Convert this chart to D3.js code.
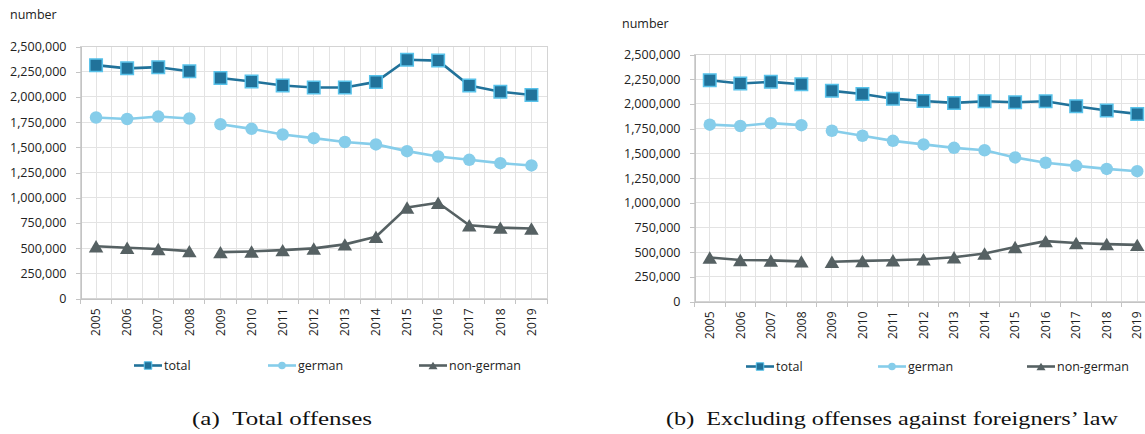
<!DOCTYPE html>
<html><head><meta charset="utf-8">
<script src="https://cdn.jsdelivr.net/npm/d3@7"></script>
<style>
html,body{margin:0;padding:0;background:#fff;}
svg{display:block;}
</style></head>
<body>
<svg id="chart" width="1145" height="434"></svg>
<script>
// ---------- data ----------
const years = ["2005","2006","2007","2008","2009","2010","2011","2012","2013","2014","2015","2016","2017","2018","2019"];
const breakAfterYear = "2008";
const seriesNames = ["total","german","non-german"];
const yTicks = [0,250000,500000,750000,1000000,1250000,1500000,1750000,2000000,2250000,2500000];
const yAxisTitle = "number";
const captions = ["(a)\u2002Total offenses","(b)\u2002Excluding offenses against foreigners\u2019 law"];

// (a) Total offenses
const totalA     = [2315000,2283000,2295000,2254000,2187000,2153000,2113000,2094000,2094000,2149000,2369000,2360000,2113000,2052000,2019000];
const germanA    = [1796000,1781000,1805000,1786000,1729000,1683000,1627000,1591000,1553000,1529000,1462000,1409000,1376000,1343000,1320000];
const nonGermanA = [519000,503000,491000,470000,460000,467000,480000,497000,537000,612000,902000,950000,727000,703000,694000];

// (b) Excluding offenses against foreigners' law
const totalB     = [2240000,2206000,2223000,2199000,2132000,2101000,2053000,2030000,2010000,2027000,2017000,2027000,1977000,1933000,1899000];
const germanB    = [1790000,1776000,1805000,1785000,1728000,1678000,1626000,1590000,1555000,1531000,1458000,1404000,1373000,1342000,1319000];
const nonGermanB = [445000,420000,416000,406000,402000,411000,418000,428000,448000,486000,551000,611000,592000,581000,573000];

// ---------- styles ----------
const colors = {total:"#21729a", totalStroke:"#58c2ea", german:"#86cdea", nongerman:"#566163"};
const svg = d3.select("#chart");
const FONT = "'Open Sans', 'DejaVu Sans', sans-serif";

function markerPath(type, s){
  if(type==="square") return d3.symbol().type(d3.symbolSquare).size(s*s)();
  if(type==="circle") return d3.symbol().type(d3.symbolCircle).size(Math.PI*(s/2)*(s/2))();
  const w=s, h=s*0.86;
  return `M0,${-h/2}L${w/2},${h/2}L${-w/2},${h/2}Z`;
}

function drawPanel(cfg){
  const g = svg.append("g");
  const x = d3.scaleBand().domain(years).range([cfg.left, cfg.right]);
  const y = d3.scaleLinear().domain([0,2500000]).range([cfg.bottom, cfg.top]);
  const bw = x.bandwidth();
  const cx = d => x(d)+bw/2;

  const vlines = [];
  years.forEach(yr => { vlines.push(x(yr)); vlines.push(x(yr)+bw/2); });
  vlines.push(cfg.right);
  g.append("g").selectAll("line").data(vlines).join("line")
    .attr("x1",d=>d).attr("x2",d=>d).attr("y1",cfg.top).attr("y2",cfg.bottom)
    .attr("stroke","#e3e3e3").attr("stroke-width",1).attr("shape-rendering","crispEdges");
  g.append("g").selectAll("line").data(yTicks).join("line")
    .attr("x1",cfg.left).attr("x2",cfg.right).attr("y1",d=>y(d)).attr("y2",d=>y(d))
    .attr("stroke","#e3e3e3").attr("stroke-width",1).attr("shape-rendering","crispEdges");
  g.append("rect").attr("x",cfg.left).attr("y",cfg.top).attr("width",cfg.right-cfg.left).attr("height",cfg.bottom-cfg.top)
    .attr("fill","none").attr("stroke","#d4d4d4").attr("shape-rendering","crispEdges");

  const ya = g.append("g").attr("transform",`translate(${cfg.left},0)`)
    .call(d3.axisLeft(y).tickValues(yTicks).tickSize(5).tickSizeOuter(0).tickPadding(9).tickFormat(d3.format(",")));
  ya.select(".domain").attr("stroke","#c4c4c4").attr("shape-rendering","crispEdges");
  ya.selectAll(".tick line").attr("stroke","#c4c4c4").attr("shape-rendering","crispEdges");
  ya.selectAll("text").attr("font-family",FONT).attr("font-size","12.5px").attr("fill","#222");

  const xa = g.append("g").attr("transform",`translate(0,${cfg.bottom})`)
    .call(d3.axisBottom(x).tickSize(0).tickSizeOuter(0));
  xa.select(".domain").attr("stroke","#c4c4c4").attr("shape-rendering","crispEdges");
  xa.selectAll("text").attr("font-family",FONT).attr("font-size","12px").attr("fill","#222")
    .attr("transform","rotate(-90)").attr("text-anchor","end").attr("x",-10).attr("y",0).attr("dy","0.35em");
  const edges = years.map(yr=>x(yr)).concat([cfg.right]);
  g.append("g").selectAll("line").data(edges).join("line")
    .attr("x1",d=>d).attr("x2",d=>d).attr("y1",cfg.bottom).attr("y2",cfg.bottom+5)
    .attr("stroke","#c4c4c4").attr("shape-rendering","crispEdges");

  g.append("text").attr("x",cfg.titleX).attr("y",cfg.titleY).text(yAxisTitle)
    .attr("font-family",FONT).attr("font-size","12.5px").attr("fill","#222");

  const series = [
    {name:seriesNames[0], vals:cfg.total, color:colors.total, marker:"square", size:12.5, fill:colors.total, stroke:colors.totalStroke},
    {name:seriesNames[1], vals:cfg.german, color:colors.german, marker:"circle", size:12.5, fill:colors.german, stroke:"none"},
    {name:seriesNames[2], vals:cfg.nongerman, color:colors.nongerman, marker:"triangle", size:14.5, fill:colors.nongerman, stroke:"none"}
  ];
  const bi = years.indexOf(breakAfterYear);
  series.forEach(s => {
    const pts = years.map((yr,i)=>({yr, v:s.vals[i], i}));
    const segs = [pts.filter(p=>p.i<=bi), pts.filter(p=>p.i>bi)];
    const line = d3.line().x(p=>cx(p.yr)).y(p=>y(p.v));
    g.append("g").selectAll("path").data(segs).join("path")
      .attr("d",line).attr("fill","none").attr("stroke",s.color).attr("stroke-width",2.6).attr("stroke-linejoin","round");
    g.append("g").selectAll("path").data(pts).join("path")
      .attr("d",markerPath(s.marker,s.size))
      .attr("transform",p=>`translate(${cx(p.yr)},${y(p.v)})`)
      .attr("fill",s.fill).attr("stroke",s.stroke).attr("stroke-width",s.stroke==="none"?0:1.5);
  });

  series.forEach((s,i)=>{
    const lx = cfg.legendX[i], ly = cfg.legendY;
    const lg = g.append("g");
    lg.append("line").attr("x1",lx).attr("x2",lx+28).attr("y1",ly).attr("y2",ly)
      .attr("stroke",s.color).attr("stroke-width",2.6);
    lg.append("path").attr("d",markerPath(s.marker, s.marker==="triangle"?9:7.5))
      .attr("transform",`translate(${lx+14},${ly})`).attr("fill",s.fill)
      .attr("stroke",s.stroke).attr("stroke-width",s.stroke==="none"?0:1);
    lg.append("text").attr("x",lx+30).attr("y",ly).attr("dy","0.35em").text(s.name)
      .attr("font-family",FONT).attr("font-size","12.5px").attr("fill","#222");
  });

  g.append("text").attr("x",cfg.capX).attr("y",425).attr("text-anchor","middle")
    .attr("font-family","'Liberation Serif', 'Times New Roman', serif").attr("font-size","18.5px").attr("fill","#111")
    .attr("textLength", cfg.capW).attr("lengthAdjust","spacingAndGlyphs")
    .text(cfg.caption);
}

drawPanel({left:80.5, right:547, top:46.5, bottom:298.5, total:totalA, german:germanA, nongerman:nonGermanA,
  titleX:10, titleY:19, legendX:[134,268,419], legendY:365.5, caption:captions[0], capX:282, capW:180});
drawPanel({left:694.5, right:1152.5, top:54.5, bottom:301.5, total:totalB, german:germanB, nongerman:nonGermanB,
  titleX:622, titleY:28, legendX:[746,878,1027], legendY:366.5, caption:captions[1], capX:892, capW:452});
</script>
</body></html>
